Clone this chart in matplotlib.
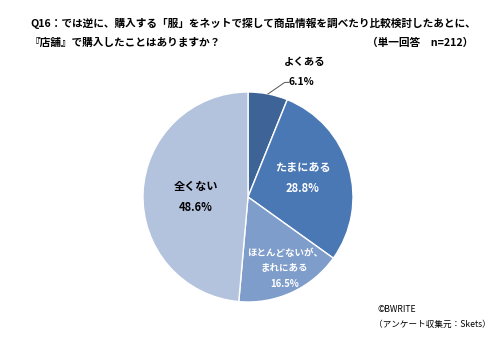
import numpy as np
import matplotlib.pyplot as plt

plt.rcParams['font.family'] = ['Noto Sans CJK JP', 'DejaVu Sans']

categories = ['よくある', 'たまにある', 'ほとんどないが、\nまれにある', '全くない']
values = [6.1, 28.8, 16.5, 48.6]
colors = ['#3D6397', '#4A78B5', '#7F9DCB', '#B3C2DD']
text_colors = ['black', 'white', 'white', 'black']

W, H = 500, 341
fig = plt.figure(figsize=(W / 100, H / 100), dpi=100)
fig.patch.set_facecolor('white')

cx, cy, r = 248, 197, 105
ax = fig.add_axes([(cx - r) / W, (H - cy - r) / H, 2 * r / W, 2 * r / H])
wedges, _ = ax.pie(values, colors=colors, startangle=90, counterclock=False,
                   radius=1, wedgeprops=dict(edgecolor='white', linewidth=1))
ax.set_xlim(-1, 1)
ax.set_ylim(-1, 1)
ax.set_aspect('equal')
ax.axis('off')

# label centres inside slices (data units of the pie)
label_xy = [None, (0.52, 0.18), (0.35, -0.68), (-0.50, 0.0)]
label_ls = [None, 1.8, 1.7, 1.8]
label_fs = [7.5, 8, 6.8, 8]

for i, (cat, v) in enumerate(zip(categories, values)):
    if i == 0:
        w = wedges[0]
        a = np.deg2rad((w.theta1 + w.theta2) / 2)
        ex, ey = np.cos(a), np.sin(a)
        ax.plot([ex, ex + 0.16, ex + 0.2], [ey, ey + 0.11, ey + 0.11],
                color='#555555', lw=0.7, clip_on=False)
        ax.text(ex + 0.2, ey + 0.11, f'{v}%', ha='left', va='center', fontsize=label_fs[0],
                fontweight='bold', color='black')
        ax.text(ex + 0.35, ey + 0.3, cat, ha='center', va='center', fontsize=label_fs[0],
                fontweight='bold', color='black')
        continue
    x, y = label_xy[i]
    ax.text(x, y, f'{cat}\n{v}%', ha='center', va='center', fontsize=label_fs[i],
            fontweight='bold', color=text_colors[i], linespacing=label_ls[i])

fig.text(30 / W, 1 - 23 / H,
         'Q16：では逆に、購入する「服」をネットで探して商品情報を調べたり比較検討したあとに、',
         fontsize=7.7, fontweight='bold', va='center', ha='left')
fig.text(30 / W, 1 - 43 / H, '『店舗』で購入したことはありますか？',
         fontsize=7.7, fontweight='bold', va='center', ha='left')
fig.text(473 / W, 1 - 43 / H, '（単一回答　n=212）',
         fontsize=7.7, fontweight='bold', va='center', ha='right')
fig.text(378 / W, 1 - 309 / H, '©BWRITE', fontsize=6.2, va='center', ha='left')
fig.text(374 / W, 1 - 324 / H, '（アンケート収集元：Skets）', fontsize=6.2,
         va='center', ha='left')

fig.savefig('out.png', dpi=100)
